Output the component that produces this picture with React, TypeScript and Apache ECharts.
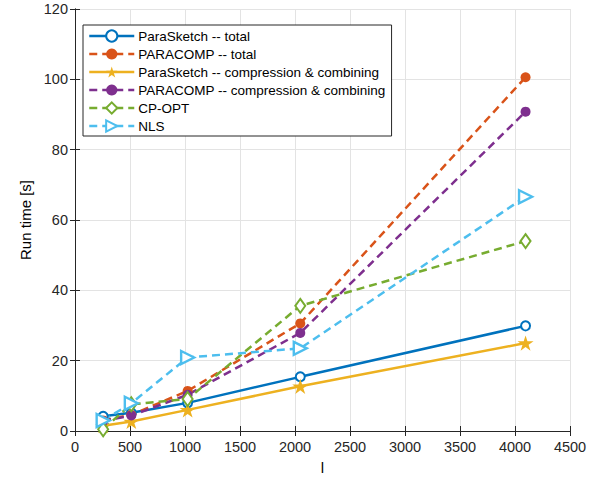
import React, { useEffect, useRef } from "react";
import * as echarts from "echarts";

const xValues = [256, 512, 1024, 2048, 4096];
const paraSketchTotal = [4.2, 5.2, 8.0, 15.4, 29.9];
const paracompTotal = [3.0, 4.6, 11.4, 30.6, 100.6];
const paraSketchComp = [1.5, 2.7, 6.0, 12.7, 25.0];
const paracompComp = [2.8, 4.4, 10.3, 27.9, 90.8];
const cpOpt = [0.5, 7.6, 9.1, 35.6, 54.0];
const nls = [3.0, 7.9, 20.9, 23.5, 66.6];

const seriesNames = [
  "ParaSketch -- total",
  "PARACOMP -- total",
  "ParaSketch -- compression & combining",
  "PARACOMP -- compression & combining",
  "CP-OPT",
  "NLS",
];

const FONT = "'Liberation Sans', Arial, Helvetica, sans-serif";
const STAR =
  "path://M10,0L12.23,6.93L19.51,6.91L13.61,11.17L15.88,18.09L10,13.8L4.12,18.09L6.39,11.17L0.49,6.91L7.77,6.93Z";
const TRI_RIGHT = "path://M0,0L10,5L0,10Z";

function pairs(ys: number[]) {
  return xValues.map((x, i) => [x, ys[i]]);
}

export default function App() {
  const ref = useRef<HTMLDivElement>(null);
  useEffect(() => {
    if (!ref.current) return;
    const chart = echarts.init(ref.current, undefined, { renderer: "svg" });
    const dash = [8, 5];
    const LW = 2.5;
    const axisColor = "#262626";
    const common = {
      min: 0,
      axisLine: { show: true, lineStyle: { color: axisColor, width: 1 } },
      axisTick: { show: true, inside: true, length: 5, lineStyle: { color: axisColor } },
    };
    chart.setOption({
      animation: false,
      backgroundColor: "#ffffff",
      textStyle: { fontFamily: FONT },
      grid: { left: 75, right: 30, top: 9, bottom: 48, containLabel: false },
      legend: {
        data: seriesNames,
        orient: "vertical",
        left: 83,
        top: 25,
        itemWidth: 45,
        itemHeight: 14,
        itemGap: 4,
        padding: [4, 6, 3, 5],
        borderColor: "#262626",
        borderWidth: 1,
        backgroundColor: "#ffffff",
        lineStyle: { width: LW },
        textStyle: { fontSize: 13.5, color: "#000", fontFamily: FONT, padding: [0, 0, 0, -1] },
      },
      xAxis: [
        {
          type: "value",
          ...common,
          max: 4500,
          interval: 500,
          name: "l",
          nameLocation: "middle",
          nameGap: 29,
          nameTextStyle: { fontSize: 15, color: "#000", fontFamily: FONT },
          axisLabel: {
            fontSize: 14.5,
            color: "#262626",
            margin: 8,
            fontFamily: FONT,
            formatter: (v: number) => String(v),
          },
          splitLine: { show: true, lineStyle: { color: "#e3e3e3", width: 1 } },
        },
        {
          type: "value",
          ...common,
          position: "top",
          max: 4500,
          interval: 500,
          axisLabel: { show: false },
          splitLine: { show: false },
        },
      ],
      yAxis: [
        {
          type: "value",
          ...common,
          max: 120,
          interval: 20,
          name: "Run time [s]",
          nameLocation: "middle",
          nameGap: 40,
          nameTextStyle: { fontSize: 15, color: "#000", fontFamily: FONT },
          axisLabel: { fontSize: 14.5, color: "#262626", margin: 7, fontFamily: FONT },
          splitLine: { show: true, lineStyle: { color: "#e3e3e3", width: 1 } },
        },
        {
          type: "value",
          ...common,
          position: "right",
          max: 120,
          interval: 20,
          axisLabel: { show: false },
          splitLine: { show: false },
        },
      ],
      series: [
        {
          name: seriesNames[0],
          type: "line",
          data: pairs(paraSketchTotal),
          symbol: "emptyCircle",
          symbolSize: 9,
          lineStyle: { color: "#0072BD", width: LW },
          itemStyle: { color: "#0072BD", borderColor: "#0072BD", borderWidth: 2.2 },
        },
        {
          name: seriesNames[1],
          type: "line",
          data: pairs(paracompTotal),
          symbol: "circle",
          symbolSize: 10,
          lineStyle: { color: "#D95319", width: LW, type: dash },
          itemStyle: { color: "#D95319" },
        },
        {
          name: seriesNames[2],
          type: "line",
          data: pairs(paraSketchComp),
          symbol: STAR,
          symbolKeepAspect: true,
          symbolSize: 16,
          lineStyle: { color: "#EDB120", width: LW },
          itemStyle: { color: "#EDB120" },
        },
        {
          name: seriesNames[3],
          type: "line",
          data: pairs(paracompComp),
          symbol: "circle",
          symbolSize: 10,
          lineStyle: { color: "#7E2F8E", width: LW, type: dash },
          itemStyle: { color: "#7E2F8E" },
        },
        {
          name: seriesNames[4],
          type: "line",
          data: pairs(cpOpt),
          symbol: "emptyDiamond",
          symbolSize: [10, 14],
          lineStyle: { color: "#77AC30", width: LW, type: dash },
          itemStyle: { color: "#77AC30", borderColor: "#77AC30", borderWidth: 2.5 },
        },
        {
          name: seriesNames[5],
          type: "line",
          data: pairs(nls),
          symbol: TRI_RIGHT,
          symbolSize: [13, 13],
          lineStyle: { color: "#4DBEEE", width: LW, type: dash },
          itemStyle: { color: "#ffffff", borderColor: "#4DBEEE", borderWidth: 2.4 },
        },
      ],
    });
    return () => chart.dispose();
  }, []);
  return (
    <div
      ref={ref}
      style={{ position: "fixed", left: 0, top: 0, width: 600, height: 480, background: "#fff" }}
    />
  );
}
